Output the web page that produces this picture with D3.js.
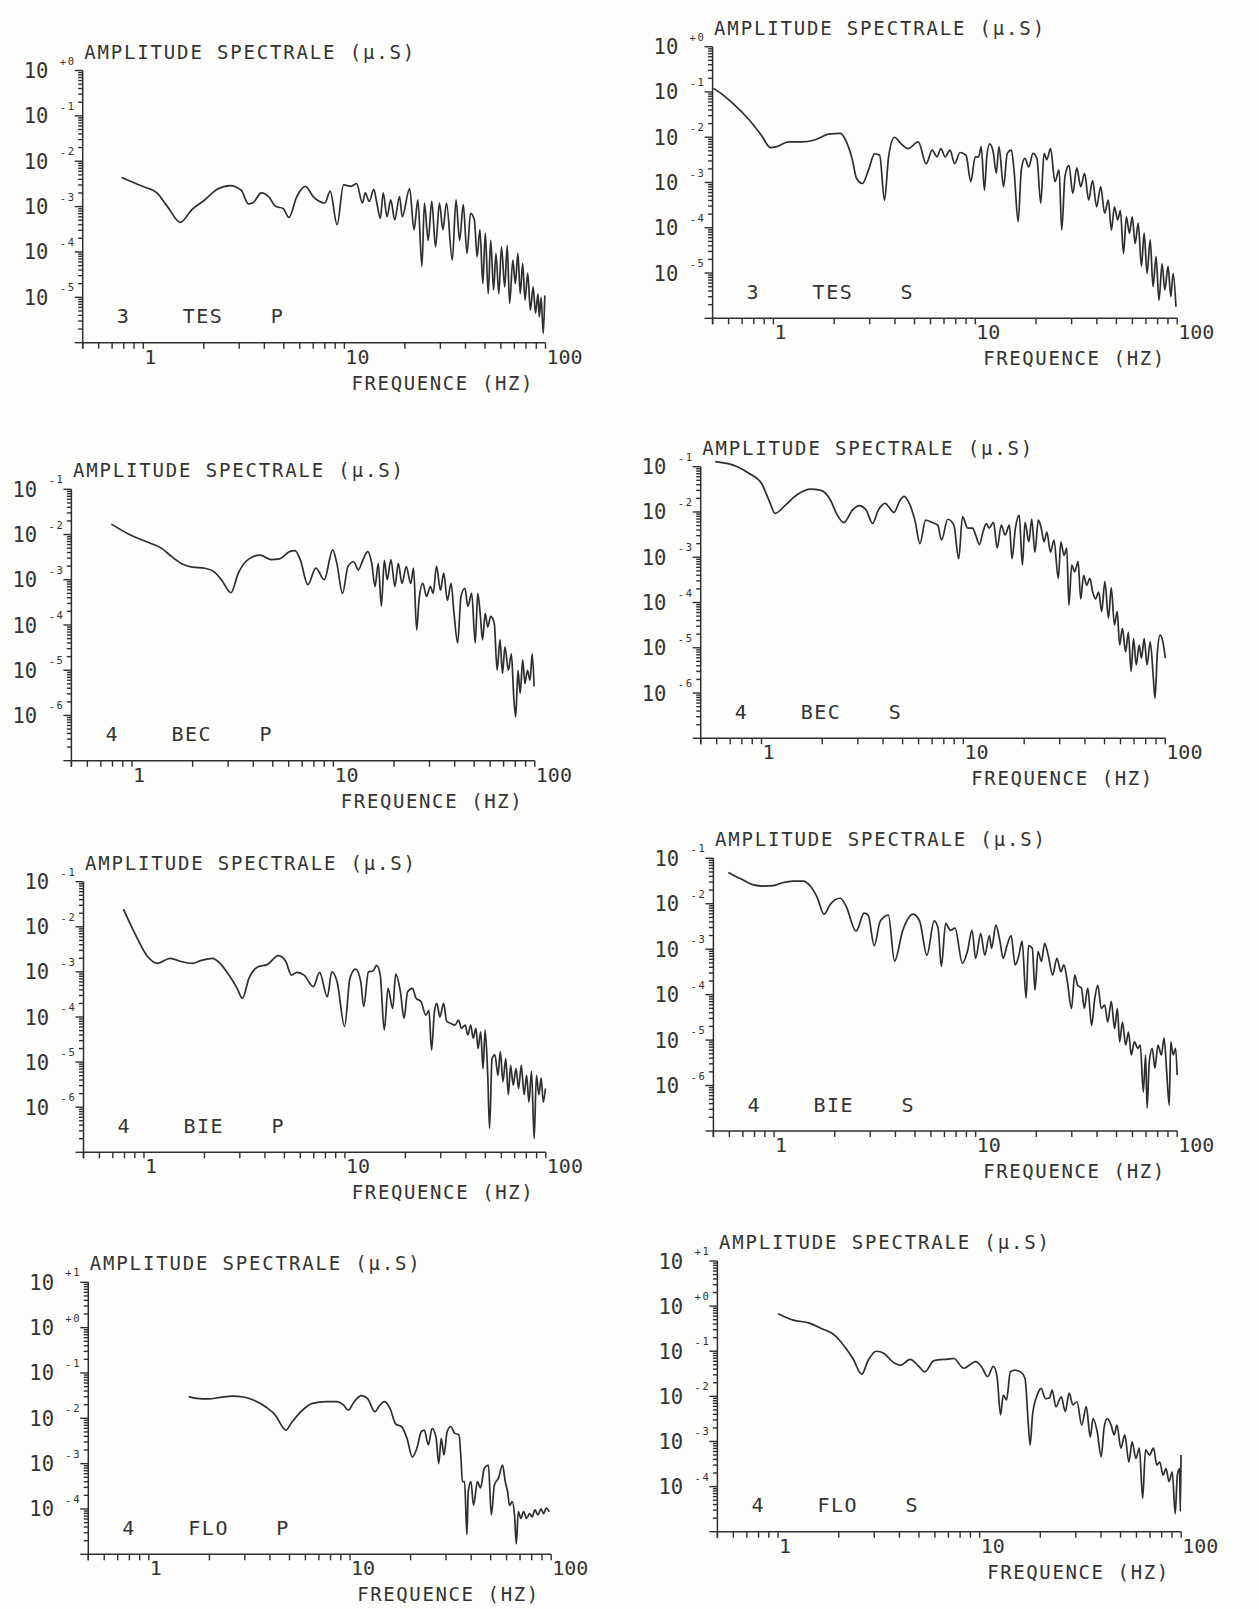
<!DOCTYPE html>
<html>
<head>
<meta charset="utf-8">
<script src="https://cdn.jsdelivr.net/npm/d3@7"></script>
<style>
  html, body { margin: 0; padding: 0; background: #fdfdfb; }
  svg text { font-family: "DejaVu Sans Mono", "Liberation Mono", monospace; fill: #333; }
</style>
</head>
<body>
<svg id="chart" width="1259" height="1609"></svg>
<script>
// ---------------- DATA (frequency Hz, spectral amplitude µ.S) ----------------
const TES_P = [[0.78,4.4e-3],[0.99,2.8e-3],[1.17,2.0e-3],[1.32,1.0e-3],[1.53,4.5e-4],[1.74,8.5e-4],[2.02,1.4e-3],[2.33,2.4e-3],[2.7,2.9e-3],[3.07,2.3e-3],[3.33,1.15e-3],[3.5,1.2e-3],[3.87,2.0e-3],[4.2,1.66e-3],[4.57,1.0e-3],[4.96,9.1e-4],[5.3,5.8e-4],[5.8,1.66e-3],[6.4,2.8e-3],[7.0,1.66e-3],[8.0,1.2e-3],[8.5,2.2e-3],[9.2,4.0e-4],[9.9,3.0e-3],[10.8,2.8e-3],[11.5,3.2e-3],[12.3,1.2e-3],[12.7,2.0e-3],[13.3,1.3e-3],[14.0,2.4e-3],[14.5,1.2e-3],[15.1,5.5e-4],[15.6,2.0e-3],[16.3,6.0e-4],[17.0,1.4e-3],[17.8,5.1e-4],[18.8,1.66e-3],[19.4,6.0e-4],[21.1,2.5e-3],[22.2,3.1e-4],[23.2,1.4e-3],[24.3,4.8e-5],[25.0,1.2e-3],[26.1,1.8e-4],[27.2,1.3e-3],[28.4,1.3e-4],[29.7,1.2e-3],[30.9,3.1e-4],[32.2,1.2e-3],[34.4,6.6e-5],[35.9,1.4e-3],[37.4,1.8e-4],[39.0,1.1e-3],[40.7,9.3e-5],[42.4,7.1e-4],[44.3,5.1e-4],[45.7,7.9e-5],[47.2,3.1e-4],[48.8,2.0e-5],[50.2,2.6e-4],[51.9,1.2e-5],[53.4,1.8e-4],[55.2,1.45e-5],[56.7,9.3e-5],[58.6,1.2e-5],[60.4,1.3e-4],[62.7,1.7e-5],[64.5,1.4e-4],[66.3,7.4e-6],[68.8,6.6e-5],[70.8,2.0e-5],[72.9,9.3e-5],[74.9,1.2e-5],[77.0,5.6e-5],[79.1,8.7e-6],[81.6,3.4e-5],[84.1,5.2e-6],[86.8,1.7e-5],[89.2,4.5e-6],[91.8,1.2e-5],[93.1,3.7e-6],[95.1,1.0e-5],[97.5,1.6e-6],[99.2,1.1e-5]];

const TES_S = [[0.505,0.12],[0.55,0.093],[0.63,0.056],[0.76,0.024],[0.87,0.0112],[0.97,5.9e-3],[1.04,6.2e-3],[1.19,7.9e-3],[1.37,7.9e-3],[1.60,8.7e-3],[1.88,0.0117],[2.15,0.0122],[2.30,7.9e-3],[2.46,3.2e-3],[2.58,1.24e-3],[2.76,9.5e-4],[2.96,1.9e-3],[3.17,4.3e-3],[3.36,4.0e-3],[3.55,4.1e-4],[3.72,3.7e-3],[3.98,0.010],[4.26,7.4e-3],[4.65,5.6e-3],[5.22,7.9e-3],[5.71,2.6e-3],[6.12,5.2e-3],[6.46,3.7e-3],[6.75,5.6e-3],[7.1,3.7e-3],[7.5,5.2e-3],[7.9,2.6e-3],[8.4,4.6e-3],[9.0,4.0e-3],[9.5,1.05e-3],[10.0,3.7e-3],[10.4,3.7e-3],[10.7,6.2e-3],[11.1,6.8e-4],[11.4,3.7e-3],[11.8,7.1e-3],[12.3,4.4e-3],[12.7,1.6e-3],[13.1,6.2e-3],[13.8,8.1e-4],[14.4,4.4e-3],[15.1,5.2e-3],[15.6,1.6e-3],[16.3,1.35e-4],[16.9,1.9e-3],[17.6,3.4e-3],[18.4,2.2e-3],[19.3,4.4e-3],[20.2,3.4e-3],[21.1,3.5e-4],[21.9,4.4e-3],[22.6,3.2e-3],[23.6,5.6e-3],[24.8,1.05e-3],[26.0,1.9e-3],[26.8,8.9e-5],[27.8,1.35e-3],[29.1,2.4e-3],[30.4,5.7e-4],[31.8,2.1e-3],[33.3,8.1e-4],[34.8,1.6e-3],[36.4,4.1e-4],[38.1,1.1e-3],[39.9,2.9e-4],[41.8,8.1e-4],[43.7,2.1e-4],[45.6,4.1e-4],[47.2,8.9e-5],[48.9,2.9e-4],[50.7,1.5e-4],[52.3,2.4e-4],[54.2,2.7e-5],[56.0,1.75e-4],[58.0,7.6e-5],[59.9,1.75e-4],[61.9,4.5e-5],[64.1,1.26e-4],[66.5,1.4e-5],[68.6,7.6e-5],[70.9,9.8e-6],[73.5,5.4e-5],[75.9,5.0e-6],[78.6,2.3e-5],[81.2,2.5e-6],[84.2,1.6e-5],[86.8,4.2e-6],[90.1,1.4e-5],[93.0,3.0e-6],[95.5,9.8e-6],[98.6,1.8e-6]];

const BEC_P = [[0.79,0.017],[0.96,0.0103],[1.18,6.9e-3],[1.40,5.0e-3],[1.58,3.2e-3],[1.79,2.2e-3],[1.99,1.9e-3],[2.3,1.8e-3],[2.56,1.5e-3],[2.78,1.0e-3],[3.10,5.2e-4],[3.37,1.4e-3],[3.81,2.9e-3],[4.32,3.5e-3],[4.89,2.8e-3],[5.4,2.9e-3],[6.06,4.2e-3],[6.44,4.4e-3],[6.86,2.7e-3],[7.46,7.8e-4],[8.18,1.8e-3],[9.0,1.0e-3],[9.92,4.6e-3],[10.4,2.3e-3],[11.1,5.0e-4],[11.8,1.95e-3],[12.6,2.5e-3],[13.3,1.66e-3],[14.0,2.7e-3],[14.8,4.2e-3],[15.5,2.3e-3],[16.1,7.1e-4],[16.7,2.3e-3],[17.3,2.6e-4],[17.9,2.7e-3],[18.5,1.0e-3],[19.3,2.8e-3],[20.2,7.1e-4],[21.0,2.3e-3],[21.9,8.3e-4],[23.0,1.95e-3],[24.2,8.3e-4],[25.0,1.8e-3],[25.9,7.8e-5],[26.6,3.5e-4],[27.8,8.3e-4],[29.0,4.3e-4],[30.3,7.1e-4],[31.3,5.0e-4],[32.5,2.0e-3],[34.0,5.9e-4],[35.3,1.4e-3],[36.8,3.5e-4],[38.4,8.3e-4],[39.7,1.8e-4],[41.4,4.0e-5],[43.0,4.3e-4],[45.0,6.5e-4],[46.5,2.6e-4],[48.6,5.0e-4],[50.6,4.0e-5],[52.1,5.0e-4],[53.7,1.55e-4],[55.0,4.7e-5],[56.7,1.8e-4],[58.4,9.1e-5],[60.4,1.55e-4],[62.9,1.1e-4],[65.0,1.0e-5],[67.2,4.7e-5],[69.1,8.5e-6],[71.1,3.3e-5],[73.9,1.0e-5],[76.5,2.3e-5],[78.6,2.6e-6],[80.4,9.3e-7],[82.5,1.0e-5],[84.6,3.1e-6],[87.1,1.7e-5],[89.3,5.1e-6],[92.0,1.0e-5],[94.7,6.0e-6],[97.1,2.3e-5],[99.2,4.4e-6]];

const BEC_S = [[0.59,0.129],[0.76,0.1],[0.87,0.071],[1.0,0.043],[1.09,0.018],[1.17,9.3e-3],[1.31,0.014],[1.50,0.024],[1.75,0.032],[1.97,0.030],[2.2,0.018],[2.35,9.3e-3],[2.56,5.8e-3],[2.82,0.011],[3.05,0.0138],[3.3,0.011],[3.55,5.6e-3],[3.79,0.011],[4.1,0.0155],[4.27,0.013],[4.53,9.8e-3],[4.85,0.018],[5.08,0.022],[5.43,0.0145],[5.77,6.2e-3],[6.09,2.0e-3],[6.5,6.6e-3],[6.97,5.9e-3],[7.46,5.1e-3],[7.8,2.4e-3],[8.36,6.9e-3],[8.97,5.1e-3],[9.48,9.3e-4],[9.9,7.9e-3],[10.5,4.4e-3],[11.1,4.4e-3],[11.5,3.1e-3],[12.0,1.9e-3],[12.5,3.6e-3],[13.0,5.5e-3],[13.4,4.4e-3],[14.1,5.9e-3],[14.7,1.6e-3],[15.4,5.1e-3],[16.1,3.1e-3],[16.9,5.1e-3],[17.4,9.3e-4],[18.1,4.4e-3],[18.9,8.5e-3],[19.6,6.7e-4],[20.2,5.9e-3],[21.1,2.2e-3],[21.8,6.9e-3],[22.6,1.3e-3],[23.5,6.6e-3],[24.2,4.8e-3],[25.1,2.2e-3],[25.9,3.6e-3],[27.0,1.3e-3],[28.1,2.4e-3],[29.5,3.4e-4],[30.4,2.2e-3],[31.5,1.1e-3],[32.5,1.6e-3],[33.3,8.7e-5],[34.4,6.7e-4],[35.6,4.8e-4],[37.0,8.0e-4],[38.1,1.2e-4],[39.4,4.0e-4],[40.8,2.4e-4],[42.3,3.4e-4],[43.7,1.7e-4],[45.1,1.2e-4],[46.8,1.7e-4],[48.4,6.3e-5],[50.2,2.9e-4],[52.3,4.5e-5],[54.0,2.1e-4],[56.0,3.2e-5],[57.8,6.3e-5],[59.4,1.15e-5],[61.3,2.7e-5],[63.6,8.1e-6],[65.6,2.2e-5],[67.7,3.0e-6],[69.6,1.6e-5],[71.8,4.2e-6],[74.2,1.15e-5],[76.2,5.9e-6],[78.6,1.6e-5],[81.2,4.2e-6],[84.2,1.35e-5],[87.3,2.1e-6],[88.9,7.6e-7],[91.4,8.1e-6],[94.3,1.9e-5],[97.3,1.35e-5],[100,5.9e-6]];

const BIE_P = [[0.79,0.0246],[0.908,6.6e-3],[1.03,2.35e-3],[1.17,1.55e-3],[1.35,2.0e-3],[1.53,1.7e-3],[1.74,1.55e-3],[1.93,1.8e-3],[2.19,2.0e-3],[2.39,1.55e-3],[2.65,8.5e-4],[2.91,4.3e-4],[3.09,2.6e-4],[3.33,7.2e-4],[3.70,1.3e-3],[4.10,1.45e-3],[4.67,2.3e-3],[5.08,1.7e-3],[5.42,8.5e-4],[5.77,9.8e-4],[6.27,8.5e-4],[6.97,4.7e-4],[7.48,9.8e-4],[8.18,2.8e-4],[8.6,1.0e-3],[9.15,6.0e-4],[9.96,6.2e-5],[10.6,7.2e-4],[11.3,1.15e-3],[12.0,6.0e-4],[12.4,1.7e-4],[13.1,1.0e-3],[13.8,1.05e-3],[14.4,1.4e-3],[15.0,8.5e-4],[15.7,5.1e-5],[16.4,4.3e-4],[17.3,1.55e-4],[17.9,8.9e-4],[18.9,3.6e-4],[19.7,9.3e-5],[20.5,3.6e-4],[21.7,4.3e-4],[22.6,2.6e-4],[23.9,2.2e-4],[25.3,1.1e-4],[26.2,1.4e-4],[27.0,1.85e-5],[27.9,1.3e-4],[28.7,2.0e-4],[29.7,1.0e-4],[31.0,2.0e-4],[32.1,8.0e-5],[33.5,7.3e-5],[35.3,6.6e-5],[36.8,8.5e-5],[38.0,5.6e-5],[39.7,6.6e-5],[40.9,4.0e-5],[42.3,6.6e-5],[43.5,3.4e-5],[44.9,5.6e-5],[46.0,2.0e-5],[47.4,4.7e-5],[48.7,7.2e-6],[49.9,5.1e-5],[51.4,5.1e-6],[52.5,3.4e-7],[54.0,1.2e-5],[55.8,1.45e-5],[57.8,5.1e-6],[59.4,1.7e-5],[61.2,3.7e-6],[63.2,1.2e-5],[65.1,1.9e-6],[66.8,8.5e-6],[68.8,3.1e-6],[71.1,7.2e-6],[73.2,2.6e-6],[75.5,8.5e-6],[78.0,1.9e-6],[80.3,5.1e-6],[82.4,1.3e-6],[84.9,6.2e-6],[87.5,2.0e-7],[89.8,5.1e-6],[92.4,1.9e-6],[94.8,4.4e-6],[97.2,1.3e-6],[99.6,2.6e-6]];

const BIE_S = [[0.593,0.049],[0.687,0.035],[0.79,0.026],[0.88,0.0245],[0.99,0.025],[1.10,0.029],[1.24,0.0316],[1.39,0.0316],[1.52,0.024],[1.63,0.0144],[1.77,5.9e-3],[1.90,9.7e-3],[2.13,0.0132],[2.28,8.7e-3],[2.55,2.5e-3],[2.80,6.2e-3],[2.93,5.6e-3],[3.14,1.2e-3],[3.36,4.1e-3],[3.69,5.6e-3],[3.96,5.5e-4],[4.35,2.6e-3],[4.9,5.9e-3],[5.28,4.1e-3],[5.73,7.4e-4],[6.23,4.2e-3],[6.51,2.9e-3],[6.76,4.2e-4],[7.1,3.7e-3],[7.5,2.6e-3],[7.9,2.9e-3],[8.6,4.9e-4],[9.1,8.9e-4],[9.6,2.6e-3],[10.0,6.3e-4],[10.6,2.2e-3],[11.1,7.4e-4],[11.7,2.0e-3],[12.0,1.05e-3],[12.6,3.4e-3],[13.2,1.5e-3],[13.7,6.3e-4],[14.3,1.2e-3],[15.0,2.0e-3],[15.7,4.5e-4],[16.4,7.4e-4],[17.0,1.5e-3],[17.8,8.3e-5],[18.3,1.2e-3],[19.1,1.05e-3],[19.7,1.26e-4],[20.4,8.9e-4],[21.2,5.4e-4],[22.0,1.35e-3],[22.9,7.4e-4],[24.1,2.7e-4],[25.3,6.3e-4],[26.5,3.2e-4],[27.4,4.5e-4],[28.5,1.95e-4],[29.9,5.0e-5],[31.0,2.7e-4],[32.1,1.6e-4],[33.5,1.4e-4],[34.6,5.0e-5],[36.0,1.4e-4],[37.6,2.1e-5],[39.0,8.3e-5],[40.4,1.6e-4],[42.0,5.0e-5],[43.7,5.9e-5],[45.2,2.5e-5],[47.1,7.1e-5],[48.9,1.8e-5],[50.5,5.0e-5],[51.8,9.1e-6],[53.5,2.5e-5],[55.5,7.8e-6],[57.3,1.5e-5],[59.2,4.7e-6],[61.3,9.1e-6],[63.8,6.6e-6],[65.6,7.8e-6],[67.9,7.2e-7],[69.7,4.7e-6],[70.9,3.2e-7],[72.7,3.3e-6],[75.2,6.6e-6],[77.5,2.4e-6],[80.3,7.8e-6],[83.4,4.7e-6],[86.1,1.1e-5],[88.9,1.7e-6],[91.3,3.7e-7],[92.9,9.1e-6],[95.5,4.7e-6],[98.2,6.6e-6],[100,1.7e-6]];

const FLO_P = [[1.58,0.030],[1.73,0.0275],[1.98,0.0268],[2.27,0.029],[2.6,0.031],[2.96,0.0295],[3.33,0.025],[3.8,0.018],[4.3,0.011],[4.6,6.6e-3],[4.8,5.5e-3],[5.1,7.8e-3],[5.7,0.014],[6.5,0.0214],[7.6,0.0234],[8.6,0.0234],[9.3,0.0195],[9.8,0.0151],[10.5,0.0234],[11.4,0.0316],[12.2,0.0275],[13.3,0.014],[13.9,0.018],[14.8,0.0234],[15.8,0.0166],[16.9,7.4e-3],[18.0,6.6e-3],[19.2,3.6e-3],[20.4,1.4e-3],[21.5,2.2e-3],[22.6,5.1e-3],[23.4,5.5e-3],[24.5,2.6e-3],[25.6,6.0e-3],[26.8,3.6e-3],[27.6,1.0e-3],[28.4,3.6e-3],[29.3,1.55e-3],[30.4,5.1e-3],[31.7,6.6e-3],[33.1,4.7e-3],[34.8,4.3e-3],[35.6,1.3e-3],[36.2,4.0e-4],[37.1,4.0e-4],[38.1,2.7e-5],[38.7,2.4e-4],[39.9,4.0e-4],[41.1,1.2e-4],[43.0,4.0e-4],[44.5,2.9e-4],[46.5,7.9e-4],[48.7,9.3e-4],[50.4,7.4e-5],[52.2,3.4e-4],[54.7,4.8e-4],[57.3,9.3e-4],[59.1,4.0e-4],[60.7,2.4e-4],[62.1,1.2e-4],[64.0,1.45e-4],[65.7,7.4e-5],[67.1,1.7e-5],[68.6,8.7e-5],[70.7,6.2e-5],[72.9,8.7e-5],[75.4,6.2e-5],[78.1,7.9e-5],[80.5,6.7e-5],[83.0,9.6e-5],[85.9,7.4e-5],[88.9,1.0e-4],[91.7,7.9e-5],[94.5,1.05e-4],[97.9,8.7e-5]];

const FLO_S = [[1.0,0.68],[1.19,0.49],[1.43,0.42],[1.64,0.32],[1.90,0.23],[2.14,0.126],[2.35,0.069],[2.6,0.031],[2.8,0.063],[3.07,0.1],[3.36,0.089],[3.69,0.059],[4.04,0.049],[4.52,0.066],[4.95,0.048],[5.35,0.035],[5.93,0.062],[6.95,0.067],[7.44,0.069],[8.34,0.042],[9.55,0.059],[10.2,0.046],[10.95,0.0275],[11.7,0.046],[12.2,0.0275],[12.7,3.9e-3],[13.1,0.0107],[13.6,8.3e-3],[14.2,0.035],[15.0,0.038],[16.1,0.034],[16.8,0.025],[17.4,2.8e-3],[17.8,8.3e-4],[18.3,3.9e-3],[19.3,0.0107],[20.2,0.0151],[21.2,8.9e-3],[22.2,9.2e-3],[22.9,0.0138],[23.9,5.9e-3],[25.4,9.8e-3],[26.6,4.6e-3],[27.8,0.0118],[29.0,6.5e-3],[30.4,7.6e-3],[32.1,2.3e-3],[33.8,5.9e-3],[35.4,1.26e-3],[36.5,3.2e-3],[38.3,1.66e-3],[40.1,4.6e-4],[41.4,1.95e-3],[42.9,3.2e-3],[44.9,2.3e-3],[46.5,1.4e-3],[48.0,2.3e-3],[50.2,7.1e-4],[52.5,1.4e-3],[55.0,3.5e-4],[57.1,9.8e-4],[59.6,4.2e-4],[62.0,7.1e-4],[64.4,5.5e-5],[66.5,6.5e-4],[69.6,5.0e-4],[72.9,7.1e-4],[75.7,3.0e-4],[78.3,3.5e-4],[81.3,1.8e-4],[84.1,2.5e-4],[87.0,1.3e-4],[90.3,2.1e-4],[93.4,2.5e-5],[95.7,1.8e-4],[98.2,2.5e-4],[99.0,2.8e-5],[99.8,5.0e-4]];

// labels and axes
const EVENT_NUMS = ["3", "3", "4", "4", "4", "4", "4", "4"];
const STATIONS   = ["TES", "TES", "BEC", "BEC", "BIE", "BIE", "FLO", "FLO"];
const WAVES      = ["P", "S", "P", "S", "P", "S", "P", "S"];
const Y_DOMAINS  = [[1e-6, 1], [1e-6, 1], [1e-7, 1e-1], [1e-7, 1e-1], [1e-7, 1e-1], [1e-7, 1e-1], [1e-5, 10], [1e-5, 10]];
const X_DOMAIN   = [0.5, 100];
const X_TICK_LABELS = ["1", "10", "100"];
const TITLE_TEXT = "AMPLITUDE SPECTRALE (\u00b5.S)";
const XLABEL_TEXT = "FREQUENCE (HZ)";
const SERIES = [TES_P, TES_S, BEC_P, BEC_S, BIE_P, BIE_S, FLO_P, FLO_S];

// ---------------- LAYOUT ----------------
const LAYOUT = [
  {x0: 82.7,  x1: 545.5,  yT: 70.5,   yB: 342.7},
  {x0: 712.6, x1: 1177.2, yT: 46.7,   yB: 318.3},
  {x0: 71.4,  x1: 534.8,  yT: 489.3,  yB: 760.7},
  {x0: 700.7, x1: 1165.3, yT: 466.7,  yB: 738.3},
  {x0: 83.5,  x1: 545.8,  yT: 881.7,  yB: 1152.3},
  {x0: 713.4, x1: 1177.2, yT: 858.3,  yB: 1131},
  {x0: 88.3,  x1: 551.2,  yT: 1282.3, yB: 1554.3},
  {x0: 717.4, x1: 1181.2, yT: 1261,   yB: 1531.7}
];

const INK = "#2e2e2e";
const svg = d3.select("#chart");

SERIES.forEach((data, i) => {
  const L = LAYOUT[i];
  const g = svg.append("g");
  const x = d3.scaleLog().domain(X_DOMAIN).range([L.x0, L.x1]);
  const y = d3.scaleLog().domain(Y_DOMAINS[i]).range([L.yB, L.yT]);

  // axis lines
  g.append("line").attr("x1", L.x0).attr("x2", L.x1).attr("y1", L.yB).attr("y2", L.yB)
    .attr("stroke", INK).attr("stroke-width", 1.5);
  g.append("line").attr("x1", L.x0).attr("x2", L.x0).attr("y1", L.yT).attr("y2", L.yB + 6)
    .attr("stroke", INK).attr("stroke-width", 1.5);

  // x ticks (log minor ticks)
  const xTicks = [];
  for (let n = -1; n <= 2; n++) for (let k = 1; k <= 9; k++) {
    const v = k * Math.pow(10, n);
    if (v >= X_DOMAIN[0] - 1e-9 && v <= X_DOMAIN[1] + 1e-9) xTicks.push(v);
  }
  g.selectAll(".xt").data(xTicks).enter().append("line")
    .attr("x1", d => x(d)).attr("x2", d => x(d))
    .attr("y1", L.yB).attr("y2", L.yB + 6)
    .attr("stroke", INK).attr("stroke-width", 1.4);

  // x tick labels
  g.selectAll(".xl").data(X_TICK_LABELS).enter().append("text")
    .attr("x", d => x(+d) + 1).attr("y", L.yB + 21)
    .attr("font-size", 20).text(d => d);

  // y ticks
  const e0 = Math.round(Math.log10(Y_DOMAINS[i][0]));
  const e1 = Math.round(Math.log10(Y_DOMAINS[i][1]));
  const yTicks = [];
  for (let n = e0; n <= e1; n++) for (let k = 1; k <= 9; k++) {
    const v = k * Math.pow(10, n);
    if (n === e1 && k > 1) continue;
    yTicks.push({v, major: k === 1});
  }
  g.selectAll(".yt").data(yTicks).enter().append("line")
    .attr("x1", L.x0).attr("x2", d => L.x0 - (d.major ? 8 : 4.5))
    .attr("y1", d => y(d.v)).attr("y2", d => y(d.v))
    .attr("stroke", INK).attr("stroke-width", 1.4);

  // y tick labels 10^n (bottom decade unlabeled)
  const decs = d3.range(e0 + 1, e1 + 1);
  const yl = g.selectAll(".yl").data(decs).enter().append("g");
  yl.append("text").attr("x", L.x0 - 59).attr("y", d => y(Math.pow(10, d)) + 7.5)
    .attr("font-size", 20.5).text("10");
  yl.append("text").attr("x", L.x0 - 23).attr("y", d => y(Math.pow(10, d)) - 5)
    .attr("font-size", 10.5).text(d => d < 0 ? "-" : "+");
  yl.append("text").attr("x", L.x0 - 15).attr("y", d => y(Math.pow(10, d)) - 6)
    .attr("font-size", 10.5).text(d => Math.abs(d));

  // title, axis label, event label
  g.append("text").attr("x", L.x0 + 1.5).attr("y", L.yT - 12)
    .attr("font-size", 19).attr("textLength", 330).attr("lengthAdjust", "spacing")
    .text(TITLE_TEXT);
  g.append("text").attr("x", L.x1 - 194).attr("y", L.yB + 47)
    .attr("font-size", 19).attr("textLength", 181).attr("lengthAdjust", "spacing")
    .text(XLABEL_TEXT);
  const lab = [[EVENT_NUMS[i], 34], [STATIONS[i], 100], [WAVES[i], 188]];
  g.selectAll(".ev").data(lab).enter().append("text")
    .attr("x", d => L.x0 + d[1]).attr("y", L.yB - 19.5)
    .attr("font-size", 20).attr("letter-spacing", 1.5).text(d => d[0]);

  // spectrum curve (smooth through the read points)
  const line = d3.line().x(d => x(d[0])).y(d => y(d[1])).curve(d3.curveMonotoneX);
  g.append("path").datum(data).attr("d", line)
    .attr("fill", "none").attr("stroke", INK).attr("stroke-width", 1.7)
    .attr("stroke-linejoin", "round");
});
</script>
</body>
</html>
